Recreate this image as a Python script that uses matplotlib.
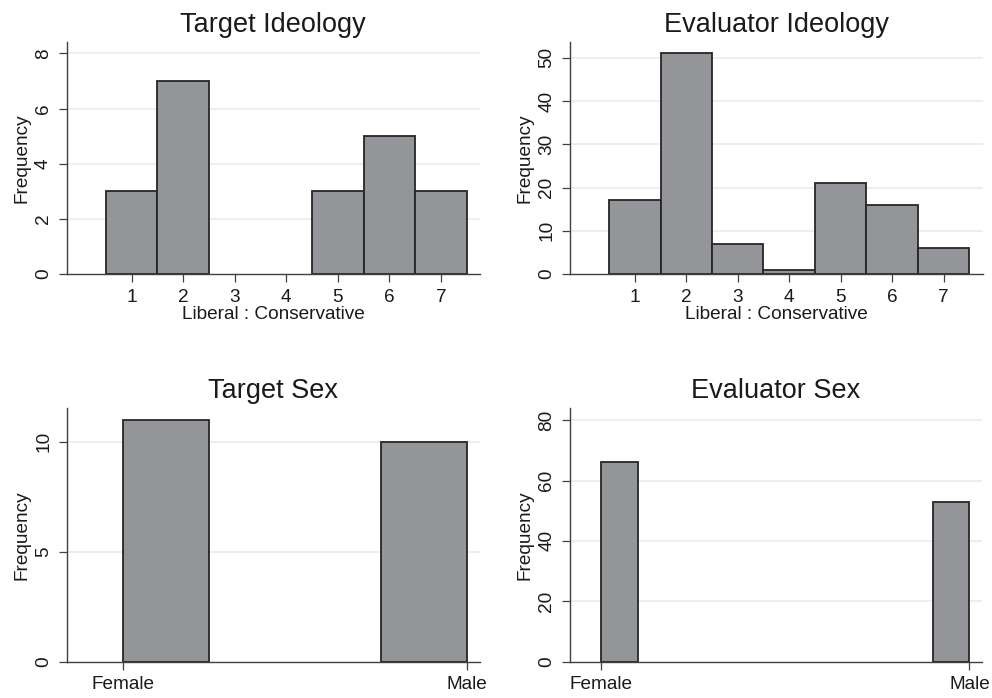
import numpy as np
import matplotlib
matplotlib.use("Agg")
import matplotlib.pyplot as plt

plt.rcParams['font.family'] = ['Liberation Sans', 'DejaVu Sans']

#%% Datos
ideo_levels = [1, 2, 3, 4, 5, 6, 7]
target_ideo = [3, 7, 0, 0, 3, 5, 3]
evaluator_ideo = [17, 51, 7, 1, 21, 16, 6]

sex_labels = ['Female', 'Male']
target_sex = [11, 10]
evaluator_sex = [66, 53]

BAR = '#939598'
EDGE = '#262626'
AXC = '#404040'
GRID = '#ebebeb'

fig = plt.figure(figsize=(9.92, 6.98), dpi=100)

def estilo(ax, yticks, ylim, xlim):
    ax.set_xlim(*xlim)
    ax.set_ylim(*ylim)
    ax.set_yticks(yticks)
    ax.set_yticklabels([str(t) for t in yticks], rotation=90, va='center')
    for s in ['top', 'right']:
        ax.spines[s].set_visible(False)
    for s in ['left', 'bottom']:
        ax.spines[s].set_color(AXC)
        ax.spines[s].set_linewidth(1.0)
    ax.tick_params(direction='out', length=5.5, width=0.9, color=AXC,
                   labelsize=13.7, pad=5, labelcolor='#1a1a1a')
    for t in yticks[1:]:
        ax.axhline(t, color=GRID, lw=1.2, zorder=0)
    ax.set_ylabel('Frequency', fontsize=13.7, labelpad=3.5, color='#1a1a1a')

def hist_ideo(rect, vals, title, yticks, ytop):
    ax = fig.add_axes(rect)
    # los intervalos vacios no se dibujan
    x = [l for l, v in zip(ideo_levels, vals) if v > 0]
    h = [v for v in vals if v > 0]
    ax.bar(x, h, width=1.0, color=BAR, edgecolor=EDGE,
           linewidth=1.3, zorder=2)
    estilo(ax, yticks, (0, ytop), (-0.26, 7.76))
    ax.set_xticks(ideo_levels)
    ax.set_xlabel('Liberal : Conservative', fontsize=13.7, labelpad=0,
                  color='#1a1a1a')
    ax.set_title(title, fontsize=19.5, pad=7, color='#1a1a1a')
    return ax

def hist_sex(rect, vals, binw, title, yticks, ytop, xlim):
    ax = fig.add_axes(rect)
    # barras: Female empieza en 0, Male termina en 1
    lefts = [0.0, 1.0 - binw]
    ax.bar(lefts, vals, width=binw, align='edge', color=BAR, edgecolor=EDGE,
           linewidth=1.3, zorder=2)
    estilo(ax, yticks, (0, ytop), xlim)
    ax.set_xticks([0, 1])
    ax.set_xticklabels(sex_labels)
    ax.set_title(title, fontsize=19.5, pad=7.5, color='#1a1a1a')
    return ax

hist_ideo([0.0672, 0.6074, 0.4167, 0.3328], target_ideo, 'Target Ideology',
          [0, 2, 4, 6, 8], 8.42)
hist_ideo([0.5746, 0.6074, 0.4160, 0.3328], evaluator_ideo, 'Evaluator Ideology',
          [0, 10, 20, 30, 40, 50], 53.7)
hist_sex([0.0672, 0.052, 0.4167, 0.363], target_sex, 0.25, 'Target Sex',
         [0, 5, 10], 11.52, (-0.163, 1.039))
hist_sex([0.5746, 0.052, 0.4153, 0.363], evaluator_sex, 0.1, 'Evaluator Sex',
         [0, 20, 40, 60, 80], 83.9, (-0.084, 1.034))

fig.savefig('out.png', dpi=100)
